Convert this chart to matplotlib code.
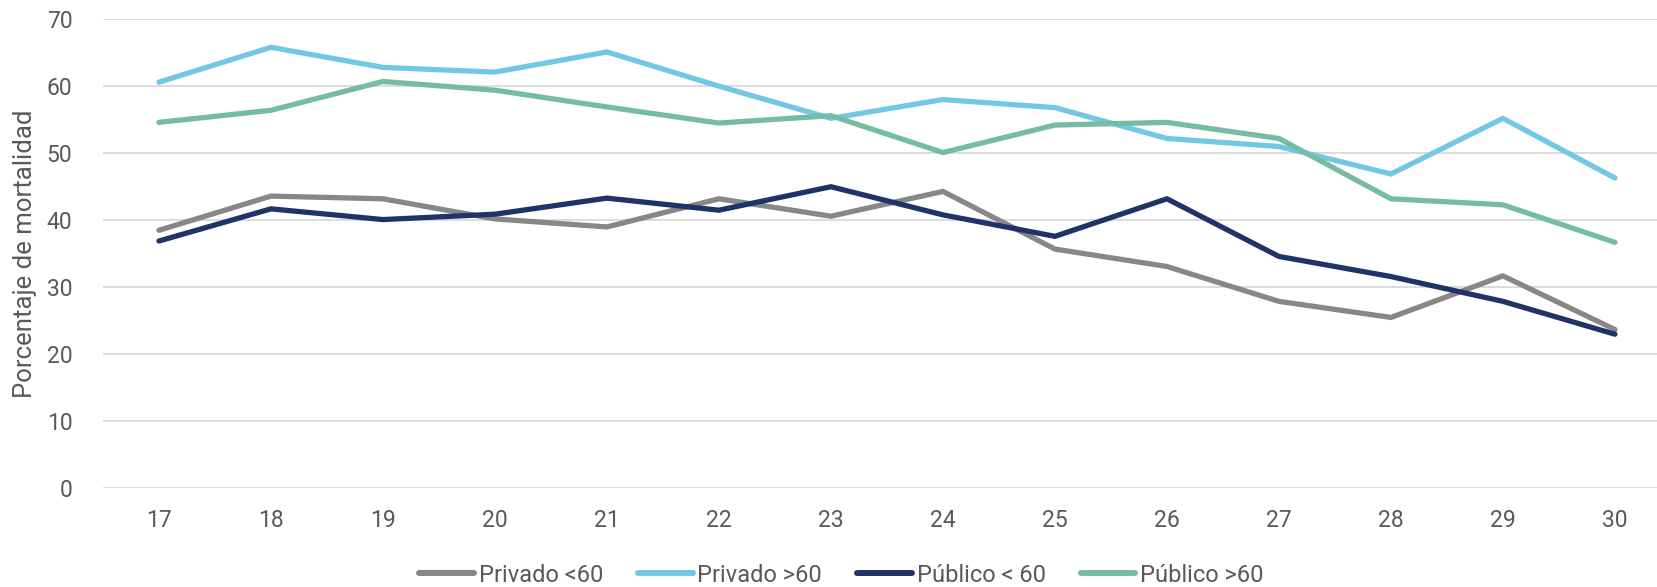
import matplotlib
matplotlib.use("Agg")
from matplotlib import pyplot as plt

plt.rcParams["font.family"] = ["Roboto", "DejaVu Sans"]

semanas = [17, 18, 19, 20, 21, 22, 23, 24, 25, 26, 27, 28, 29, 30]
privado_menor60 = [38.5, 43.6, 43.2, 40.2, 39.0, 43.2, 40.6, 44.3, 35.7, 33.1, 27.9, 25.5, 31.7, 23.7]
privado_mayor60 = [60.6, 65.8, 62.8, 62.1, 65.1, 60.0, 55.2, 58.0, 56.8, 52.2, 51.0, 46.9, 55.2, 46.3]
publico_menor60 = [36.9, 41.7, 40.1, 40.9, 43.3, 41.5, 45.0, 40.8, 37.6, 43.2, 34.6, 31.6, 27.9, 23.0]
publico_mayor60 = [54.6, 56.4, 60.7, 59.4, 56.9, 54.5, 55.6, 50.1, 54.2, 54.6, 52.2, 43.2, 42.3, 36.7]

series = [
    ("Privado <60", privado_menor60, "#878787"),
    ("Privado >60", privado_mayor60, "#72C8E3"),
    ("Público < 60", publico_menor60, "#1F3366"),
    ("Público >60", publico_mayor60, "#74BDA4"),
]

color_texto = "#595959"

fig = plt.figure(figsize=(16.58, 5.87), dpi=100)
ax = fig.add_axes([0.0621, 0.168, 0.9457, 0.7994])

for nombre, valores, color in series:
    ax.plot(semanas, valores, color=color, linewidth=3.8, label=nombre,
            solid_capstyle="round", solid_joinstyle="miter")

# ejes y cuadricula
ax.set_xlim(16.5, 30.5)
ax.set_ylim(0, 70)
ax.set_yticks(range(0, 71, 10))
ax.set_xticks(semanas)
ax.grid(axis="y", color="#D9D9D9", linewidth=1.3)
ax.set_axisbelow(True)
for lado in ax.spines.values():
    lado.set_visible(False)
ax.tick_params(axis="both", length=0, labelsize=16.5, labelcolor=color_texto)
ax.tick_params(axis="y", pad=22)
ax.tick_params(axis="x", pad=15)

ax.set_ylabel("Porcentaje de mortalidad", fontsize=18.5, color=color_texto)
ax.yaxis.set_label_coords(-0.042, 0.5)

leyenda = ax.legend(loc="center", bbox_to_anchor=(0.471, -0.185), ncol=4, frameon=False,
                    fontsize=17, labelcolor=color_texto, handlelength=2.3,
                    handletextpad=0.2, columnspacing=1.5)
for linea in leyenda.get_lines():
    linea.set_linewidth(4.3)

plt.savefig("out.png", dpi=100)
